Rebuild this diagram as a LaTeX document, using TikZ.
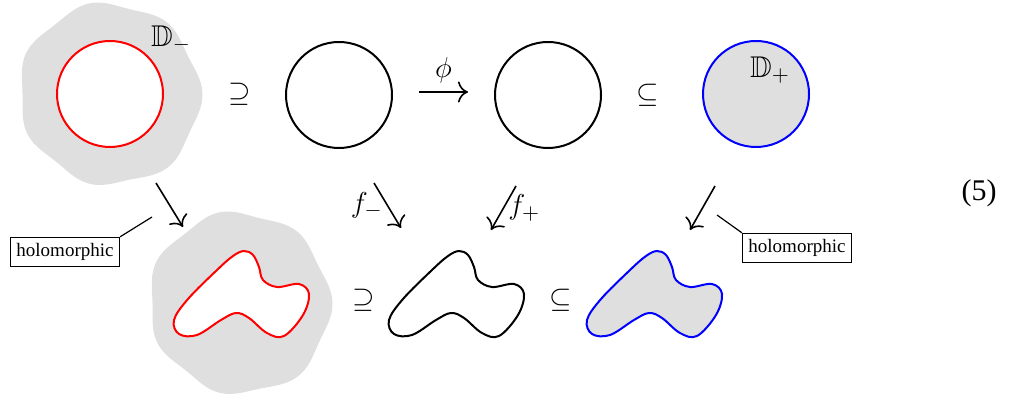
\documentclass[tikz,border=0pt]{standalone}
\usepackage{amssymb}
\usepackage{fontspec}
\setmainfont{Liberation Serif}
\usetikzlibrary{arrows.meta}
\tikzset{
  disc/.style ={circle,minimum size=53pt,inner sep=0pt,line width=1pt},
  rel/.style  ={font=\fontsize{15}{18}\selectfont,inner sep=0pt},
  mlbl/.style ={font=\fontsize{15}{18}\selectfont,inner sep=2pt},
  arr/.style  ={-{To[scale=1.5]},line width=0.8pt},
  tag/.style  ={draw,line width=0.6pt,font=\fontsize{9.5}{11}\selectfont,inner sep=3pt},
  halo/.pic   ={\fill[gray!25] plot[domain=0:357,samples=120,smooth cycle] (\x:{90+2.5*cos(7*\x)+1*sin(2*\x)});},
  blob/.pic   ={\path[pic actions] plot[smooth cycle,tension=0.6] coordinates {
      (-8,-37) (3,-42) (12,-38) (18,-26) (22,-13) (36,-6) (58,-9) (68,1) (62,22) (43,43)
      (26,40) (8,25) (-5,20) (-20,27) (-44,42) (-62,41) (-67,27) (-53,6) (-24,-23)};},
}
\begin{document}
\begin{tikzpicture}[x=0.5pt,y=-0.5pt]
  \useasboundingbox (0,0) rectangle (1010,400);
  % top row
  \pic at (110,94) {halo};
  \node[disc,draw=red,fill=white] (dm) at (110,94) {};
  \node[mlbl] (ldm) at (171,39) {$\mathbb{D}_-$};
  \node[rel] (s1) at (240,94) {$\supseteq$};
  \node[disc,draw=black] (c2) at (339,95) {};
  \node[disc,draw=black] (c3) at (548,95) {};
  \node[rel] (s2) at (648,95) {$\subseteq$};
  \node[disc,draw=blue,fill=gray!25] (dp) at (756,94) {};
  \node[mlbl] (ldp) at (770,70) {$\mathbb{D}_+$};
  \draw[arr,shorten <=13pt,shorten >=13pt] ([yshift=1.5pt]c2.east) -- node[mlbl,above=2pt]{$\phi$} ([yshift=1.5pt]c3.west);

  % bottom row
  \coordinate (bm) at (241,293);
  \coordinate (b0) at (456,293);
  \coordinate (bp) at (654,293);
  \pic at (240,303) {halo};
  \pic[draw=red,fill=white,line width=1pt] at (bm) {blob};
  \node[rel] (s3) at (364,300) {$\supseteq$};
  \pic[draw=black,line width=1pt] at (b0) {blob};
  \node[rel] (s4) at (561,300) {$\subseteq$};
  \pic[draw=blue,fill=gray!25,line width=1pt] at (bp) {blob};

  % maps down
  \coordinate (m1s) at (156,183); \coordinate (m1e) at (183,227);
  \coordinate (m2s) at (374,183); \coordinate (m2e) at (401,228);
  \coordinate (m3s) at (516,186); \coordinate (m3e) at (491,230);
  \coordinate (m4s) at (715,186); \coordinate (m4e) at (690,230);
  \draw[arr] (m1s) -- (m1e);
  \draw[arr] (m2s) -- node[mlbl,left]{$f_-$} (m2e);
  \draw[arr] (m3s) -- node[mlbl,right]{$f_+$} (m3e);
  \draw[arr] (m4s) -- (m4e);

  % holomorphic tags
  \node[tag] (hl) at (65,252) {holomorphic};
  \node[tag] (hr) at (797,248) {holomorphic};
  \coordinate (hlp) at (152,217);
  \coordinate (hrp) at (717,215);
  \draw[line width=0.6pt] (hl.north east) -- (hlp);
  \draw[line width=0.6pt] (hr.north west) -- (hrp);

  \node[font=\fontsize{15}{18}\selectfont] (eqn) at (979,193) {(5)};
\end{tikzpicture}
\end{document}
